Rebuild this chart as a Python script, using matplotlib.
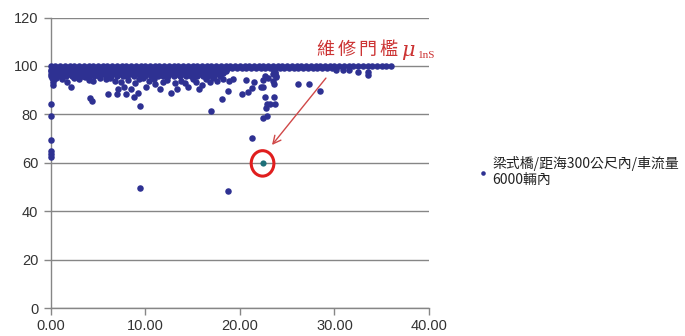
import matplotlib
matplotlib.use("Agg")
import matplotlib.pyplot as plt
from matplotlib.patches import Ellipse

# ---- data -----------------------------------------------------------------
# dense band of bridges close to the 100 ceiling, one list of x per level
band_x_100 = [0.0, 0.5, 1.0, 1.5, 2.0, 2.5, 3.0, 3.5, 4.0, 4.5, 5.0, 5.5, 6.0, 6.5,
              7.0, 7.5, 8.0, 8.5, 9.0, 9.5, 10.0, 10.5, 11.0, 11.5, 12.0, 12.5, 13.0,
              13.5, 14.0, 14.5, 15.0, 15.5, 16.0, 16.5, 17.0, 17.5, 18.0, 18.5, 19.0,
              19.5, 20.0, 20.5, 21.0, 21.5, 22.0, 22.5, 23.0, 23.5, 24.0, 24.5, 25.0,
              25.5, 26.0, 26.5, 27.0, 27.5, 28.0, 28.5, 29.0, 29.5, 30.0, 30.5, 31.0,
              31.5, 32.0, 32.5, 33.0, 33.5, 34.0, 34.5, 35.0, 35.5, 36.0]
band_x_99 = [0.2, 0.7, 1.2, 1.7, 2.2, 2.7, 3.2, 3.7, 4.2, 4.7, 5.2, 5.7, 6.2, 6.7,
             7.2, 7.7, 8.2, 8.7, 9.2, 9.7, 10.2, 10.7, 11.2, 11.7, 12.2, 12.7, 13.2,
             13.7, 14.2, 14.7, 15.2, 15.7, 16.2, 16.7, 17.2, 17.7, 18.2, 18.7, 19.2,
             19.7, 20.2, 20.7, 21.2, 21.7, 22.2, 22.7, 23.2, 23.7, 24.2, 24.7, 25.2,
             25.7, 26.2, 26.7, 27.2, 27.7, 28.2, 28.7, 29.2, 29.7]
band_x_98 = [0.0, 0.5, 1.0, 1.5, 2.0, 2.5, 3.0, 3.5, 4.0, 4.5, 5.0, 5.5, 6.0, 6.5,
             7.0, 7.5, 8.0, 8.5, 9.0, 9.5, 10.0, 10.5, 11.0, 11.5, 12.0, 12.5, 13.0,
             13.5, 14.0, 14.5, 15.0, 15.5, 16.0, 16.5, 17.0, 17.5, 18.0, 18.5, 23.6]
band_x_97 = [0.2, 0.7, 1.2, 1.7, 2.2, 2.7, 3.2, 3.7, 4.2, 4.7, 5.2, 5.7, 6.2, 6.7,
             7.2, 7.7, 8.2, 8.7, 9.2, 9.7, 10.2, 10.7, 11.2, 11.7, 12.2, 12.7, 13.2,
             13.7, 14.2, 14.7, 15.2, 15.7, 16.2, 16.7, 17.2, 17.7, 18.2, 23.7]
band_x_965 = [0.0, 0.4, 0.9, 1.4, 1.9, 2.4, 2.9, 3.4, 3.9, 4.4, 4.9, 5.4, 5.9, 6.4,
              6.9, 7.4, 7.9, 8.4, 8.9, 9.4, 9.9, 10.4, 10.9, 11.4, 11.9, 12.4, 12.9,
              13.4, 13.9, 14.4, 14.9, 15.4, 15.9, 16.4, 16.9, 17.4, 17.9, 23.5]
band_x_96 = [0.0, 0.5, 1.0, 1.6, 2.3, 2.8, 3.3, 4.0, 4.6, 5.1, 5.8, 6.4, 7.0, 7.6,
             8.1, 8.8, 9.5, 10.0, 10.6, 11.3, 11.9, 12.4, 13.0, 13.7, 14.3, 14.8,
             15.5, 16.1, 16.6, 17.3, 17.9, 23.8]

# scattered points just under the band
fringe_x = [0.1, 0.3, 0.2, 0.25, 0.6, 1.2, 1.7, 2.1, 2.5, 3.0, 3.6, 4.0, 4.5, 5.2,
            5.8, 6.3, 6.8, 7.1, 7.4, 7.8, 8.2, 8.5, 8.9, 9.3, 9.8, 10.1, 10.4, 10.9,
            11.0, 11.6, 11.9, 12.3, 12.7, 13.1, 13.4, 13.8, 14.2, 14.5, 15.0, 15.4,
            15.7, 16.0, 16.4, 16.8, 17.2, 17.6, 18.2, 18.8, 19.3, 20.6, 21.5, 22.5,
            22.4, 23.0, 23.5, 23.8, 23.6, 22.7]
fringe_y = [95.0, 94.5, 93.5, 92.0, 95.2, 94.8, 93.3, 91.2, 95.0, 94.6, 95.3, 94.2,
            94.0, 95.0, 94.5, 95.2, 94.0, 90.5, 93.5, 91.2, 94.3, 90.5, 93.0, 94.6,
            95.0, 91.2, 93.8, 94.8, 92.6, 90.5, 93.5, 94.2, 88.7, 93.0, 90.5, 94.0,
            92.8, 91.2, 94.5, 93.2, 90.5, 92.3, 94.6, 93.5, 95.0, 94.0, 94.8, 93.8,
            94.5, 94.3, 93.3, 94.3, 91.5, 95.0, 94.0, 95.5, 92.6, 96.0]

# isolated low readings
outlier_x = [0.0, 0.0, 0.0, 0.0, 0.0, 0.0, 4.2, 4.4, 6.1, 7.0, 8.0, 8.8, 9.2, 9.4,
             9.4, 17.0, 18.1, 18.7, 18.7, 20.2, 20.9, 21.3, 22.2, 22.7, 23.6, 22.9,
             23.2, 23.7, 22.8, 22.4, 22.9, 21.3, 26.2, 27.3, 28.5, 32.5, 33.6, 33.6,
             30.2, 30.9, 31.5]
outlier_y = [84.3, 79.5, 69.4, 65.0, 63.6, 62.4, 86.6, 85.6, 88.4, 88.4, 88.4, 87.0,
             88.7, 83.3, 49.5, 81.3, 86.4, 89.5, 48.5, 88.6, 89.4, 90.9, 91.3, 87.1,
             87.1, 84.3, 84.3, 84.3, 82.6, 78.5, 79.4, 70.4, 92.6, 92.6, 89.8, 97.4,
             97.4, 96.1, 98.4, 98.4, 98.4]

# the bridge singled out by the maintenance threshold
flagged_x = [22.4]
flagged_y = [59.8]

series_label = "梁式橋/距海300公尺內/車流量\n6000輛內"
threshold_text = "維修門檻"
x_ticks = [0, 10, 20, 30, 40]
y_ticks = [0, 20, 40, 60, 80, 100, 120]

# ---- assemble the series --------------------------------------------------
xs, ys = [], []
for level, row in [(100, band_x_100), (99, band_x_99), (98.5, band_x_98),
                   (98, band_x_98), (97.5, band_x_97), (97, band_x_97),
                   (96.5, band_x_965), (96, band_x_96)]:
    xs += row
    ys += [level] * len(row)
xs += fringe_x + outlier_x
ys += fringe_y + outlier_y

# ---- figure ---------------------------------------------------------------
fig = plt.figure(figsize=(6.85, 3.36), dpi=100)
ax = fig.add_axes([0.074, 0.0824, 0.5523, 0.8655])

dot_color = "#2e3192"
grey = "#868686"

ax.scatter(xs, ys, s=22, color=dot_color, linewidths=0, clip_on=False,
           zorder=3, label=series_label)
ax.scatter(flagged_x, flagged_y, s=20, color="#1d6f78", linewidths=0, zorder=4)

ax.set_xlim(0, 40)
ax.set_ylim(0, 120)
ax.set_xticks(x_ticks)
ax.set_xticklabels([f"{v:.2f}" for v in x_ticks])
ax.set_yticks(y_ticks)

for side in ("top", "right"):
    ax.spines[side].set_visible(False)
for side in ("left", "bottom"):
    ax.spines[side].set_color(grey)
    ax.spines[side].set_linewidth(1.0)

ax.yaxis.grid(True, color=grey, linewidth=1.0)
ax.set_axisbelow(True)
ax.tick_params(axis="both", colors=grey, labelcolor="#333333", length=5,
               width=1.0, labelsize=10.5)
ax.tick_params(axis="y", pad=4)
ax.tick_params(axis="x", pad=3)
for lab in ax.get_xticklabels() + ax.get_yticklabels():
    lab.set_fontfamily("Liberation Sans")

# threshold annotation
red_text = "#cc3333"
for i, ch in enumerate(threshold_text):
    ax.annotate(ch, xy=(29.0, 106.4), xytext=(i * 15.3, 0),
                textcoords="offset points", ha="center", va="center",
                fontsize=13, color=red_text, family=["Noto Sans CJK TC"],
                annotation_clip=False)
ax.annotate("μ", xy=(37.8, 106.4), ha="center", va="center", fontsize=15,
            color=red_text, family="DejaVu Serif", style="italic",
            annotation_clip=False)
ax.annotate("1nS", xy=(38.8, 104.2), ha="left", va="center", fontsize=8,
            color=red_text, family="Liberation Serif", annotation_clip=False)

ax.annotate("", xy=(23.4, 67.4), xytext=(29.1, 95.0),
            arrowprops=dict(arrowstyle="->", color="#d04848", lw=1.0,
                            mutation_scale=14, shrinkA=0, shrinkB=0),
            zorder=5)
ax.add_patch(Ellipse((22.4, 59.8), width=2.4, height=10.5, fill=False,
                     edgecolor="#e01e1e", linewidth=2.2, zorder=5))

leg = ax.legend(loc="upper left", bbox_to_anchor=(0.688, 0.557),
                bbox_transform=fig.transFigure, frameon=False, borderpad=0,
                handletextpad=0.3, handlelength=0.7, scatterpoints=1,
                markerscale=0.7, prop={"family": ["Noto Sans CJK TC"], "size": 10.0})
for t in leg.get_texts():
    t.set_color("#222222")

fig.savefig("out.png", dpi=100, facecolor="white")
